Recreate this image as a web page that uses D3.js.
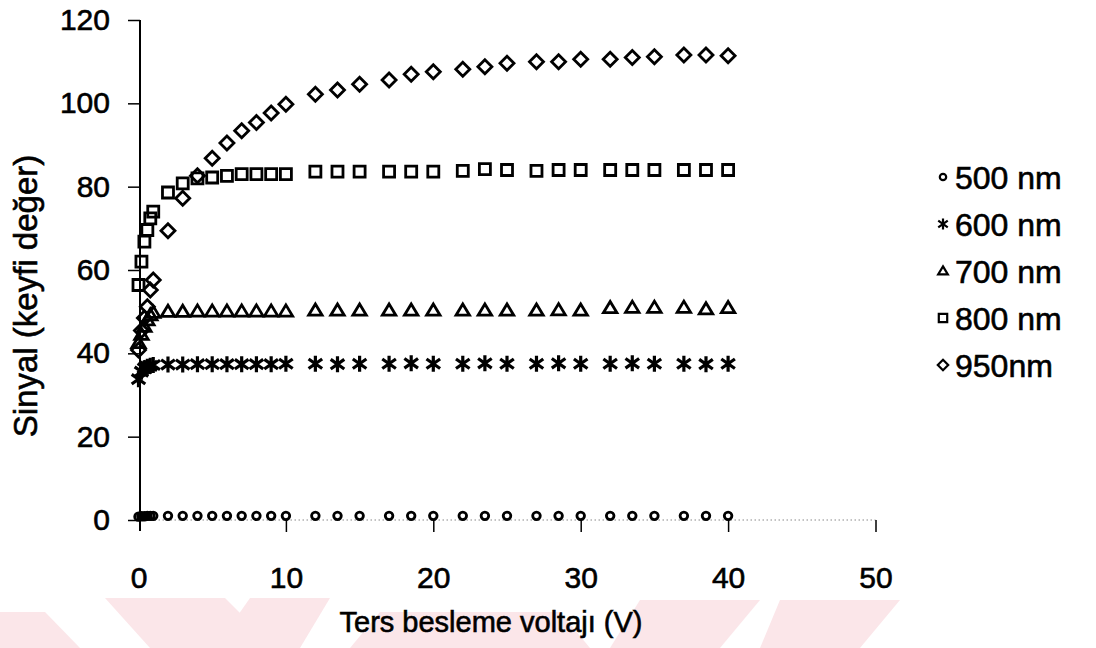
<!DOCTYPE html>
<html>
<head>
<meta charset="utf-8">
<script src="https://cdn.jsdelivr.net/npm/d3@7"></script>
<style>
  html, body { margin: 0; padding: 0; background: #fff; }
  svg { display: block; font-family: "Liberation Sans", Arial, Helvetica, sans-serif; }
  svg text { fill: #000; stroke: #000; stroke-width: 0.6px; }
</style>
</head>
<body>
<svg id="chart" width="1096" height="648"></svg>
<script>
// Reverse bias voltage (V) for each measurement
const voltages = [0, 0.2, 0.4, 0.6, 0.8, 1, 2, 3, 4, 5, 6, 7, 8, 9, 10,
  12, 13.5, 15, 17, 18.5, 20, 22, 23.5, 25, 27, 28.5, 30, 32, 33.5, 35, 37, 38.5, 40];

// Signal (arbitrary units) per wavelength
const signal500 = [0.8, 0.9, 0.9, 1.0, 1.0, 1.0, 1.0, 1.0, 1.0, 1.0, 1.0, 1.0, 1.0, 1.0, 1.0,
  1.0, 1.0, 1.0, 1.0, 1.0, 1.0, 1.0, 1.0, 1.0, 1.0, 1.0, 1.0, 1.0, 1.0, 1.0, 1.0, 1.0, 1.0];
const signal600 = [33.8, 35.6, 36.4, 36.8, 37.0, 37.2, 37.3, 37.3, 37.4, 37.4, 37.4, 37.4, 37.4, 37.4, 37.5,
  37.5, 37.4, 37.5, 37.5, 37.6, 37.5, 37.5, 37.6, 37.5, 37.5, 37.6, 37.5, 37.5, 37.6, 37.5, 37.5, 37.4, 37.5];
const signal700 = [42.5, 44.5, 46.4, 48.0, 49.2, 49.8, 50.0, 50.0, 50.1, 50.1, 50.1, 50.1, 50.1, 50.1, 50.1,
  50.3, 50.3, 50.3, 50.3, 50.3, 50.3, 50.3, 50.3, 50.3, 50.3, 50.4, 50.3, 50.9, 51.0, 51.0, 51.0, 50.6, 50.9];
const signal800 = [56.4, 62.0, 66.8, 69.6, 72.4, 74.0, 78.6, 80.8, 82.0, 82.2, 82.6, 83.0, 83.0, 83.0, 83.0,
  83.6, 83.6, 83.6, 83.6, 83.6, 83.6, 83.8, 84.2, 84.0, 83.8, 84.0, 84.0, 84.0, 84.0, 84.0, 84.0, 84.0, 84.0];
const signal950 = [40.8, 45.5, 48.5, 51.2, 55.2, 57.6, 69.4, 77.2, 82.6, 86.8, 90.5, 93.4, 95.4, 97.7, 99.8,
  102.2, 103.2, 104.6, 105.6, 107.0, 107.6, 108.2, 108.8, 109.6, 110.0, 110.0, 110.6, 110.6, 111.0, 111.2, 111.6, 111.6, 111.4];

const seriesNames = ["500 nm", "600 nm", "700 nm", "800 nm", "950nm"];
const xTicks = [0, 10, 20, 30, 40, 50];
const yTicks = [0, 20, 40, 60, 80, 100, 120];
const xTitle = "Ters besleme voltajı (V)";
const yTitle = "Sinyal (keyfi değer)";

// Outline marker shapes; "size" is the half-width in pixels
const symCircle = { draw(ctx, r) { ctx.moveTo(r, 0); ctx.arc(0, 0, r, 0, 2 * Math.PI); } };
const symAsterisk = { draw(ctx, r) {
  ctx.moveTo(0, -r); ctx.lineTo(0, r);
  ctx.moveTo(-0.85 * r, -0.6 * r); ctx.lineTo(0.85 * r, 0.6 * r);
  ctx.moveTo(-0.85 * r, 0.6 * r); ctx.lineTo(0.85 * r, -0.6 * r);
} };
const symTriangle = { draw(ctx, r) {
  ctx.moveTo(0, -r); ctx.lineTo(1.05 * r, 0.75 * r); ctx.lineTo(-1.05 * r, 0.75 * r); ctx.closePath();
} };
const symSquare = { draw(ctx, r) { ctx.rect(-r, -r, 2 * r, 2 * r); } };
const symDiamond = { draw(ctx, r) {
  ctx.moveTo(0, -r); ctx.lineTo(r, 0); ctx.lineTo(0, r); ctx.lineTo(-r, 0); ctx.closePath();
} };

const series = [
  { name: seriesNames[0], values: signal500, type: symCircle,   r: 3.8, lr: 3.2, w: 2.8 },
  { name: seriesNames[1], values: signal600, type: symAsterisk, r: 8,   lr: 5.6, w: 3.2 },
  { name: seriesNames[2], values: signal700, type: symTriangle, r: 6.4, lr: 4.6, w: 2.8 },
  { name: seriesNames[3], values: signal800, type: symSquare,   r: 5.5, lr: 4.2, w: 2.8 },
  { name: seriesNames[4], values: signal950, type: symDiamond,  r: 7,   lr: 5.2, w: 2.8 }
];

const svg = d3.select("#chart");

// Pale background print showing through the page
const bgShapes = [
  [[0, 612], [45, 612], [80, 648], [0, 648]],
  [[105, 598], [225, 598], [275, 648], [150, 648]],
  [[250, 598], [330, 598], [300, 648], [215, 648]],
  [[380, 612], [560, 612], [590, 648], [350, 648]],
  [[640, 600], [760, 600], [720, 648], [610, 648]],
  [[780, 600], [900, 600], [860, 648], [760, 648]]
];
svg.append("g").selectAll("path").data(bgShapes).join("path")
  .attr("d", d => d3.line()(d) + "Z")
  .attr("fill", "#fbe6e9");

const x = d3.scaleLinear().domain([0, 50]).range([138.5, 875.5]);
const y = d3.scaleLinear().domain([0, 120]).range([520, 20]);

// X axis: faint dotted baseline with solid ticks
svg.append("line")
  .attr("x1", x(0)).attr("x2", x(50)).attr("y1", y(0)).attr("y2", y(0))
  .attr("stroke", "#888").attr("stroke-width", 1).attr("stroke-dasharray", "1.5,2.5");

const xAxis = svg.append("g")
  .attr("transform", `translate(0,${y(0)})`)
  .call(d3.axisBottom(x).tickValues(xTicks).tickSize(12).tickPadding(35).tickFormat(d3.format("d")));
xAxis.select(".domain").remove();
xAxis.selectAll(".tick line").attr("stroke", "#000").attr("stroke-width", 1.5)
  .filter(d => d === 0).remove();
xAxis.selectAll(".tick text").attr("font-size", 30)
  .attr("font-family", "'Liberation Sans', Arial, sans-serif");

// Y axis
const yAxis = svg.append("g")
  .attr("transform", `translate(140,0)`)
  .call(d3.axisLeft(y).tickValues(yTicks).tickSize(12).tickPadding(18).tickFormat(d3.format("d")));
yAxis.select(".domain").remove();
yAxis.selectAll(".tick line").attr("stroke", "#000").attr("stroke-width", 1.5);
yAxis.selectAll(".tick text").attr("font-size", 30)
  .attr("font-family", "'Liberation Sans', Arial, sans-serif");
svg.append("line")
  .attr("x1", 140).attr("x2", 140).attr("y1", y(120)).attr("y2", y(0) + 11)
  .attr("stroke", "#000").attr("stroke-width", 2);

// Axis titles
svg.append("text")
  .attr("x", 491).attr("y", 632)
  .attr("text-anchor", "middle").attr("font-size", 29)
  .text(xTitle);
svg.append("text")
  .attr("transform", "translate(37,296) rotate(-90)")
  .attr("text-anchor", "middle").attr("font-size", 33)
  .text(yTitle);

// Data markers
const plot = svg.append("g");
series.forEach(s => {
  const sym = d3.symbol().type(s.type).size(s.r);
  plot.append("g").selectAll("path")
    .data(voltages.map((v, i) => [v, s.values[i]]))
    .join("path")
    .attr("transform", d => `translate(${x(d[0])},${y(d[1])})`)
    .attr("d", sym())
    .attr("fill", "none")
    .attr("stroke", "#000")
    .attr("stroke-width", s.w)
    .attr("stroke-linejoin", "miter");
});

// Legend
const legend = svg.append("g");
series.forEach((s, i) => {
  const cy = 177 + 47 * i;
  legend.append("path")
    .attr("transform", `translate(943,${cy})`)
    .attr("d", d3.symbol().type(s.type).size(s.lr)())
    .attr("fill", "none").attr("stroke", "#000").attr("stroke-width", 2.2);
  legend.append("text")
    .attr("x", 955).attr("y", cy + 11.5)
    .attr("font-size", 32)
    .text(s.name);
});
</script>
</body>
</html>
